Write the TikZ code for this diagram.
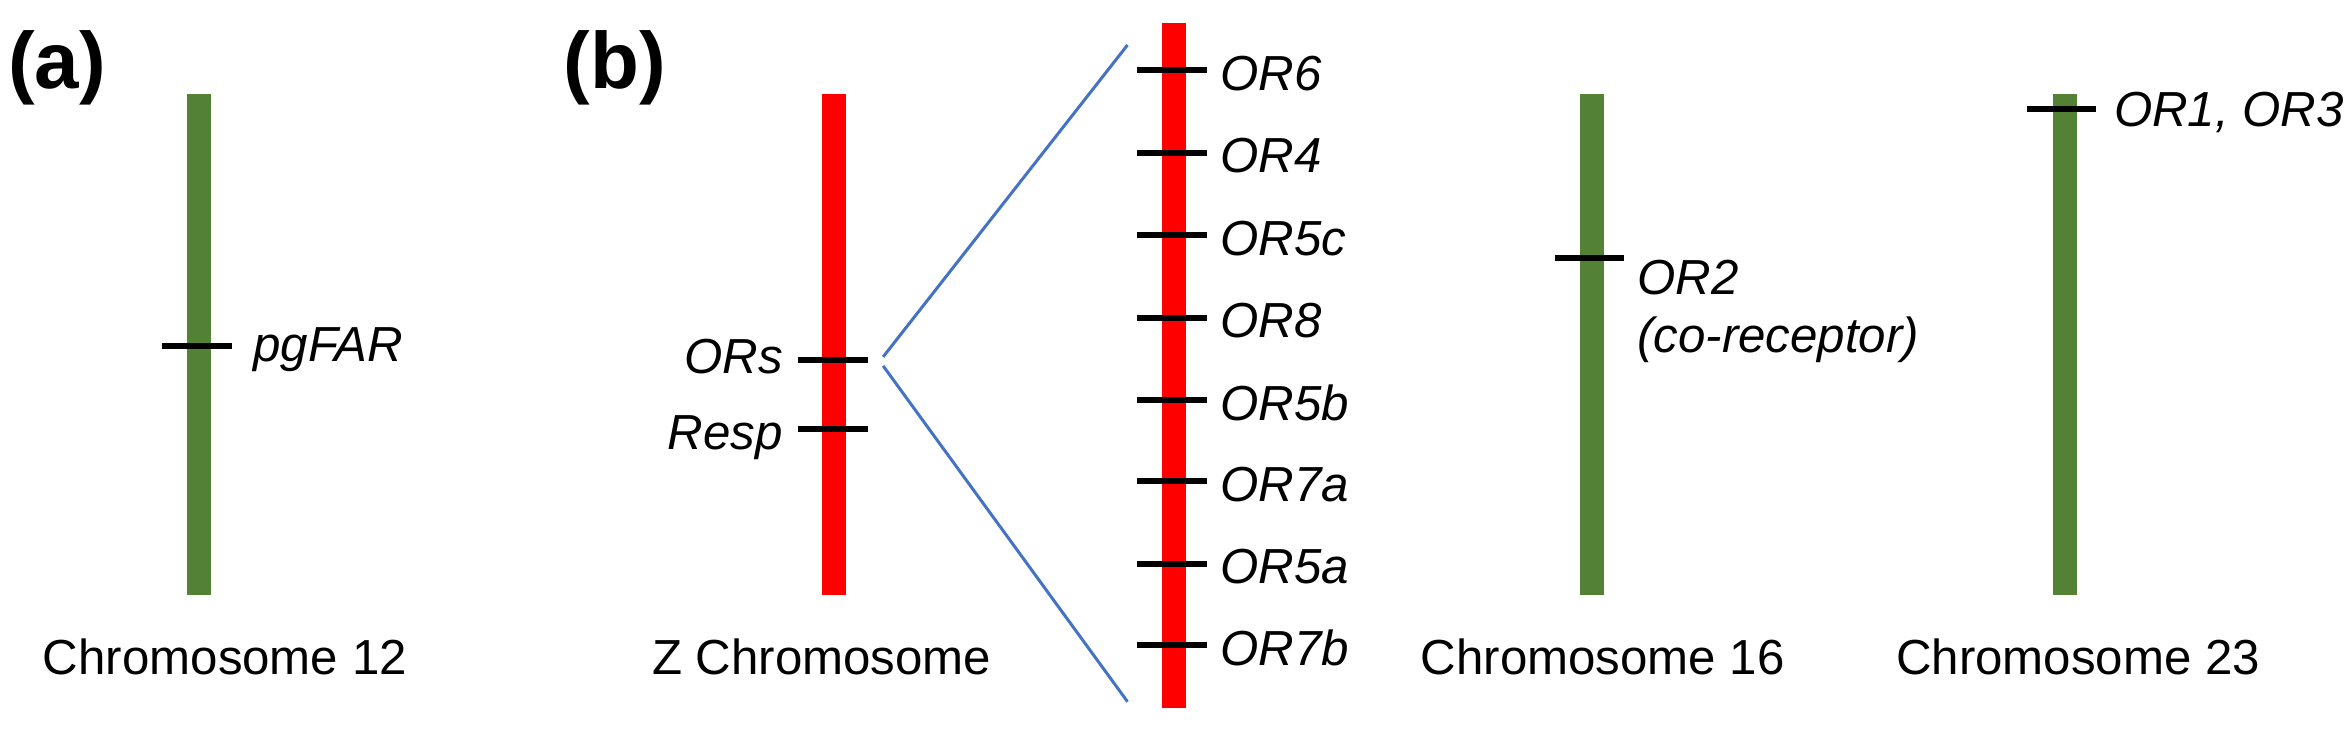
\documentclass[tikz,border=0pt]{standalone}
\usepackage{fontspec}
\setmainfont{Liberation Sans}
\usetikzlibrary{positioning}
\definecolor{chrgreen}{HTML}{548235}
\definecolor{chrred}{HTML}{FF0000}
\definecolor{zoomblue}{HTML}{4472C4}
\begin{document}
\begin{tikzpicture}
      [x=0.3pt, y=-0.3pt,
      chrom/.style={line width=4.8pt},
      gene/.style={line width=1.2pt, black},
      glab/.style={font=\itshape\fontsize{9.85}{11.5}\selectfont, inner sep=1pt},
      clab/.style={font=\fontsize{9.85}{11.5}\selectfont},
      panel/.style={font=\bfseries\fontsize{16}{18}\selectfont}]
      \useasboundingbox (0,0) rectangle (1568,487);
      % panel labels
      \node[panel] (pa) at (38,45) {(a)};
      \node[panel] (pb) at (410,45) {(b)};
      % chromosome 12
      \draw[chrom, chrgreen] (133,63) -- (133,397);
      \draw[gene] (108,231) -- (155,231);
      \node[glab, anchor=west] (far) at (165,233) {pgFAR};
      \node[clab] (c12) at (150,438) {Chromosome 12};
      % Z chromosome
      \draw[chrom, chrred] (556,63) -- (556,397);
      \draw[gene] (532,240) -- (579,240);
      \draw[gene] (532,286) -- (579,286);
      \node[glab, anchor=east] (ors) at (526,238) {ORs};
      \node[glab, anchor=east] (resp) at (526,292) {Resp};
      \node[clab] (cz) at (548,438) {Z Chromosome};
      \coordinate (zt) at (589,238);
      \coordinate (zb) at (589,244);
      % expanded region
      \draw[chrom, chrred] (783,15) -- (783,472);
      \coordinate (et) at (752,30);
      \coordinate (eb) at (752,468);
      \draw[zoomblue, semithick] (zt) -- (et);
      \draw[zoomblue, semithick] (zb) -- (eb);
      \foreach \y/\g in {47/OR6, 102/OR4, 157/OR5c, 212/OR8, 267/OR5b, 321/OR7a, 376/OR5a, 430/OR7b} {
        \draw[gene] (758,\y) -- (805,\y);
        \node[glab, anchor=west] (\g) at (810,\y+2) {\g};
      }
      % chromosome 16
      \draw[chrom, chrgreen] (1062,63) -- (1062,397);
      \draw[gene] (1037,172) -- (1083,172);
      \node[glab, anchor=west] (or2) at (1088,185) {OR2};
      \node[glab, below=2pt of or2.south west, anchor=north west] (corec) {(co-receptor)};
      \node[clab] (c16) at (1069,438) {Chromosome 16};
      % chromosome 23
      \draw[chrom, chrgreen] (1377,63) -- (1377,397);
      \draw[gene] (1352,73) -- (1398,73);
      \node[glab, anchor=west] (or13) at (1406,75) {OR1, OR3};
      \node[clab] (c23) at (1386,438) {Chromosome 23};
    \end{tikzpicture}
\end{document}
